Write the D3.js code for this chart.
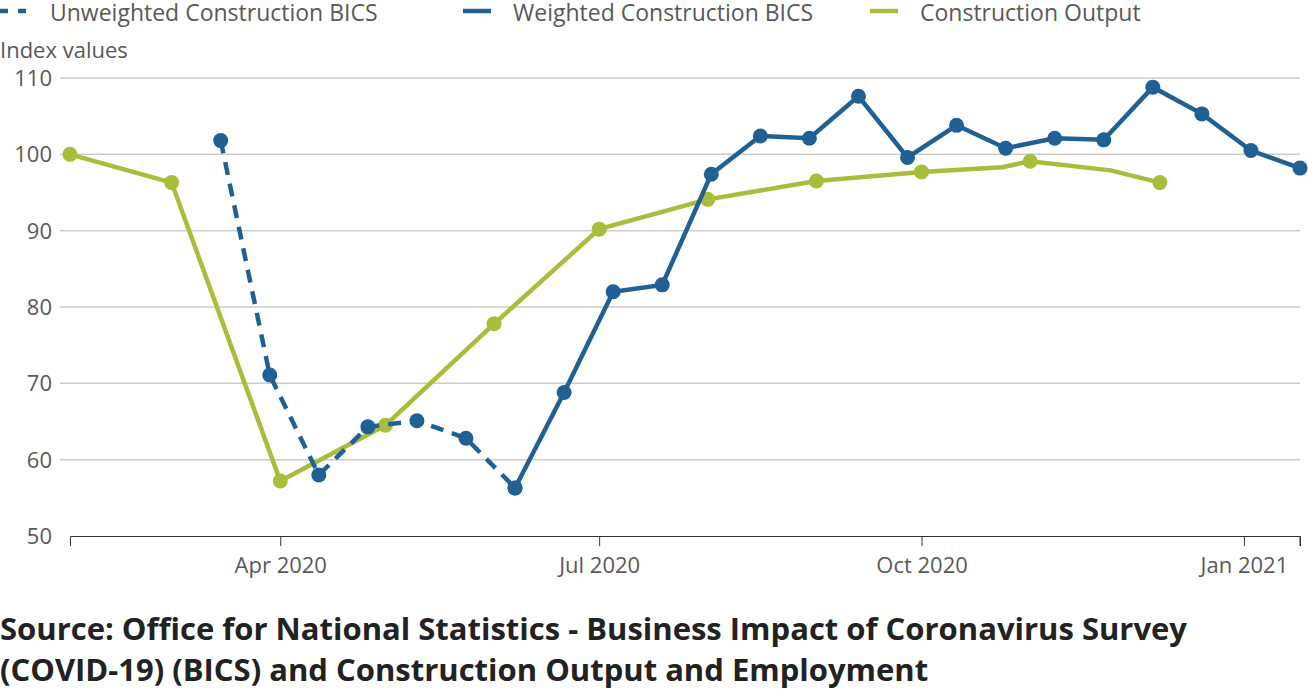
<!DOCTYPE html>
<html><head><meta charset="utf-8">
<script src="https://cdn.jsdelivr.net/npm/d3@7"></script>
<style>body{margin:0;background:#fff;font-family:"Open Sans",sans-serif;}</style>
</head><body><div id="chart"></div>
<script>
const parse = d3.timeParse("%Y-%m-%d");

const bicsDates = ["2020-03-15","2020-03-29","2020-04-12","2020-04-26","2020-05-10","2020-05-24","2020-06-07",
  "2020-06-21","2020-07-05","2020-07-19","2020-08-02","2020-08-16","2020-08-30","2020-09-13","2020-09-27",
  "2020-10-11","2020-10-25","2020-11-08","2020-11-22","2020-12-06","2020-12-20","2021-01-03","2021-01-17"];
const unweighted = [101.8,71.1,58.0,64.3,65.1,62.8,56.3, null,null,null,null,null,null,null,null,null,null,null,null,null,null,null,null];
const weighted = [null,null,null,null,null,null,56.3,68.8,82.0,82.9,97.4,102.4,102.1,107.6,99.6,103.8,100.8,102.1,101.9,108.8,105.3,100.5,98.2];

const outputDates = ["2020-02-01","2020-03-01","2020-04-01","2020-05-01","2020-06-01","2020-07-01","2020-08-01",
  "2020-09-01","2020-10-01","2020-10-24","2020-11-01","2020-11-24","2020-12-08"];
const output = [100.0,96.3,57.2,64.5,77.8,90.2,94.1,96.5,97.7,98.3,99.1,97.9,96.3];
const outputMarker = [1,1,1,1,1,1,1,1,1,0,1,0,1];

const yTicks = [50,60,70,80,90,100,110];
const xTicks = ["2020-04-01","2020-07-01","2020-10-01","2021-01-01"];

const W = 1308, H = 693;
const blue = "#206095", green = "#a8bd3a", grey = "#595959";
const svg = d3.select("#chart").append("svg").attr("width", W).attr("height", H);

const x = d3.scaleTime().domain([parse("2020-02-01"), parse("2021-01-17")]).range([70, 1300]);
const y = d3.scaleLinear().domain([50, 110]).range([536, 78]);

// grid
svg.append("g").selectAll("line").data(yTicks.slice(1)).join("line")
  .attr("x1", 60).attr("x2", 1300).attr("y1", d => y(d)).attr("y2", d => y(d))
  .attr("stroke", "#cccccc").attr("stroke-width", 1.5);
svg.append("g").selectAll("text").data(yTicks).join("text")
  .attr("x", 52).attr("y", d => y(d) + 8).attr("text-anchor", "end")
  .attr("fill", grey).attr("font-size", 22).text(d => d);

// x axis
const xa = svg.append("g").attr("transform", `translate(0,${y(50)})`)
  .call(d3.axisBottom(x).tickValues(xTicks.map(parse)).tickFormat(d3.timeFormat("%b %Y")).tickSize(10).tickSizeOuter(10));
xa.select(".domain").attr("stroke", "#333");
xa.selectAll(".tick line").attr("stroke", "#333");
xa.selectAll(".tick text").attr("fill", grey).attr("font-size", 22).attr("font-family", "Open Sans").attr("dy", "1.1em");
xa.append("line").attr("x1", 1300).attr("x2", 1300).attr("y1", 0).attr("y2", 10).attr("stroke", "#333");

svg.append("text").attr("x", 0).attr("y", 58).attr("fill", grey).attr("font-size", 22).text("Index values");

const line = d3.line().defined(d => d[1] != null).x(d => x(d[0])).y(d => y(d[1]));

function series(dates, vals, color, dash, marks) {
  const pts = dates.map((d, i) => [parse(d), vals[i]]);
  svg.append("path").datum(pts).attr("d", line).attr("fill", "none")
    .attr("stroke", color).attr("stroke-width", 4.5).attr("stroke-dasharray", dash);
  svg.append("g").selectAll("circle").data(pts.filter((p, i) => p[1] != null && (!marks || marks[i])))
    .join("circle").attr("cx", d => x(d[0])).attr("cy", d => y(d[1])).attr("r", 7.5).attr("fill", color);
}
series(outputDates, output, green, null, outputMarker);
series(bicsDates, unweighted, blue, "13,9", null);
series(bicsDates, weighted, blue, null, null);

// legend
const legend = [
  {t: "Unweighted Construction BICS", c: blue, dash: "8,10", x: 0},
  {t: "Weighted Construction BICS", c: blue, dash: null, x: 463},
  {t: "Construction Output", c: green, dash: null, x: 870}
];
const lg = svg.append("g").selectAll("g").data(legend).join("g");
lg.append("line").attr("x1", d => d.x).attr("x2", d => d.x + 28).attr("y1", 11).attr("y2", 11)
  .attr("stroke", d => d.c).attr("stroke-width", 4.5).attr("stroke-dasharray", d => d.dash);
lg.append("text").attr("x", d => d.x + 50).attr("y", 21).attr("fill", grey).attr("font-size", 23).text(d => d.t);

svg.append("text").attr("x", 0).attr("y", 640).attr("font-size", 31).attr("font-weight", "bold").attr("fill", "#222")
  .text("Source: Office for National Statistics - Business Impact of Coronavirus Survey");
svg.append("text").attr("x", 0).attr("y", 681).attr("font-size", 31).attr("font-weight", "bold").attr("fill", "#222")
  .text("(COVID-19) (BICS) and Construction Output and Employment");
</script></body></html>
